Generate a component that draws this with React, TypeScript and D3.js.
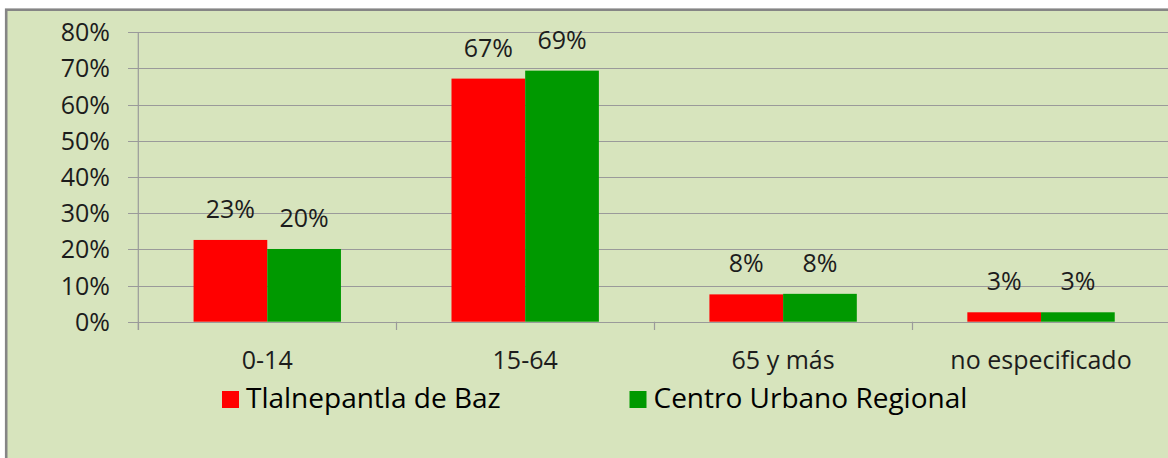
import React from "react";
import * as d3 from "d3";

const categories = ["0-14", "15-64", "65 y más", "no especificado"];
const seriesNames = ["Tlalnepantla de Baz", "Centro Urbano Regional"];
const tlalnepantla = [0.226, 0.672, 0.0755, 0.026];
const centroUrbano = [0.201, 0.694, 0.077, 0.026];
const yTicks = [0, 0.1, 0.2, 0.3, 0.4, 0.5, 0.6, 0.7, 0.8];
const seriesColors = ["#FF0000", "#009900"];

const W = 1168;
const H = 458;
const FONT = "'Open Sans', sans-serif";

export default function App() {
  const seriesValues = [tlalnepantla, centroUrbano];
  const x0 = d3.scaleBand<string>().domain(categories).range([138.3, 1170]).paddingInner(0).paddingOuter(0);
  const x1 = d3
    .scaleBand<string>()
    .domain(seriesNames)
    .range([0, x0.bandwidth()])
    .paddingInner(0)
    .paddingOuter(0.75);
  const y = d3.scaleLinear().domain([0, 0.8]).range([321.7, 32.3]);
  const fmt = (v: number) => `${Math.round(v * 100)}%`;
  const axisX = 138.3;
  const grid = "#9a9a9a";
  const textColor = "#1c1c1c";

  return (
    <svg
      width={W}
      height={H}
      style={{ position: "absolute", left: 0, top: 0, background: "#ffffff" }}
      fontFamily={FONT}
    >
      <rect x={6.2} y={9.7} width={W + 20} height={H + 20} fill="#D7E4BD" stroke="#858585" strokeWidth={2.6} />

      {/* gridlines and y ticks */}
      {yTicks.map((t) => (
        <g key={t}>
          <line x1={128} x2={W} y1={Math.round(y(t)) + 0.5} y2={Math.round(y(t)) + 0.5} stroke={grid} strokeWidth={1.2} />
          <text
            x={110}
            y={y(t)}
            dy="0.36em"
            textAnchor="end"
            fontSize={25}
            fill={textColor}
          >
            {fmt(t)}
          </text>
        </g>
      ))}

      {/* y axis line */}
      <line x1={axisX} x2={axisX} y1={y(0.8)} y2={330} stroke={grid} strokeWidth={1.2} />

      {/* category ticks */}
      {categories.map((c) => (
        <line
          key={c}
          x1={Math.round(x0(c)!) + 0.5}
          x2={Math.round(x0(c)!) + 0.5}
          y1={y(0)}
          y2={330}
          stroke={grid}
          strokeWidth={1.2}
        />
      ))}

      {/* bars */}
      {categories.map((c, i) => (
        <g key={c} transform={`translate(${x0(c)},0)`}>
          {seriesNames.map((s, si) => {
            const v = seriesValues[si][i];
            const bx = x1(s)!;
            return (
              <g key={s}>
                <rect x={bx} y={y(v)} width={x1.bandwidth()} height={y(0) - y(v)} fill={seriesColors[si]} />
                <text
                  x={bx + x1.bandwidth() / 2}
                  y={y(v) - 22}
                  textAnchor="middle"
                  fontSize={25}
                  fill={textColor}
                >
                  {fmt(v)}
                </text>
              </g>
            );
          })}
        </g>
      ))}

      {/* category labels */}
      {categories.map((c) => (
        <text
          key={c}
          x={x0(c)! + x0.bandwidth() / 2}
          y={369}
          textAnchor="middle"
          fontSize={25}
          fill={textColor}
        >
          {c}
        </text>
      ))}

      {/* legend */}
      {seriesNames.map((s, si) => {
        const lx = si === 0 ? 222 : 629.5;
        return (
          <g key={s}>
            <rect x={lx} y={391} width={17} height={17} fill={seriesColors[si]} />
            <text x={lx + 24} y={408.3} fontSize={28} fill="#000000">
              {s}
            </text>
          </g>
        );
      })}
    </svg>
  );
}
